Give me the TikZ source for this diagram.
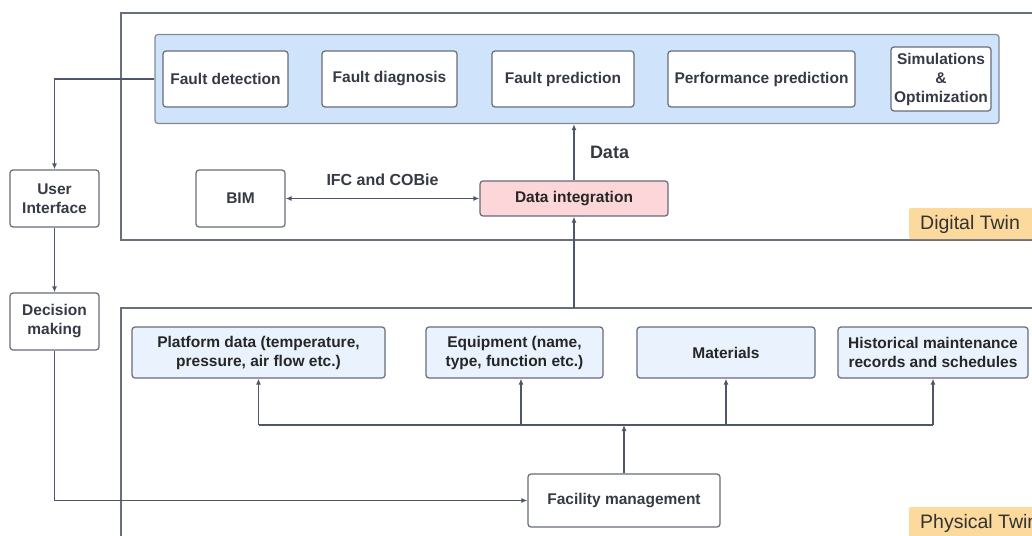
\documentclass[tikz,border=0pt]{standalone}
\usepackage{fontspec}
\setmainfont{Liberation Sans}
\usetikzlibrary{arrows.meta}
\definecolor{txt}{HTML}{353A45}
\definecolor{ln}{HTML}{50566A}
\definecolor{bd}{HTML}{666C78}
\definecolor{panelblue}{HTML}{CFE3FB}
\definecolor{lightblue}{HTML}{EAF3FD}
\definecolor{pink}{HTML}{FDD6D9}
\definecolor{tag}{HTML}{FCD99C}
\tikzset{
  box/.style={draw=bd, line width=1.2pt, rounded corners=3pt, fill=white, inner sep=0pt,
    align=center, text=txt, font=\fontsize{15.5}{19}\selectfont\bfseries},
  pbox/.style={box, fill=lightblue, text=black!85},
  conn/.style={draw=ln, line width=1.2pt, -{Latex[length=6pt,width=5pt]}},
  frame/.style={draw=ln!85, line width=1.2pt},
  lbl/.style={text=txt, font=\fontsize{16}{19}\selectfont\bfseries, inner sep=0pt},
  tagtxt/.style={text=black!80, font=\fontsize{19.5}{22}\selectfont, inner sep=0pt, anchor=west}
}
\begin{document}
\begin{tikzpicture}[x=1pt,y=-1pt]
\useasboundingbox (0,0) rectangle (1032,535);
\clip (0,0) rectangle (1032,535);
\fill[white] (0,0) rectangle (1032,535);
% frames
\draw[frame] (1040,13) -- (121,13) -- (121,240) -- (1040,240);
\draw[frame] (1040,308) -- (121,308) -- (121,545);
% blue panel
\node[draw=bd!80, fill=panelblue, rounded corners=3pt, line width=1.2pt, minimum width=844pt, minimum height=89pt, inner sep=0pt] (panel) at (577,79) {};
\node[box, minimum width=125pt, minimum height=56pt] (fd) at (225.5,79) {Fault detection};
\node[box, minimum width=135pt, minimum height=56pt] (fdi) at (389.5,79) {Fault diagnosis};
\node[box, minimum width=142pt, minimum height=56pt] (fp) at (563,79) {Fault prediction};
\node[box, minimum width=187pt, minimum height=56pt] (pp) at (761.5,79) {Performance prediction};
\node[box, minimum width=100pt, minimum height=64pt] (sim) at (941,79) {Simulations\\\&\\Optimization};
% middle
\node[box, minimum width=89pt, minimum height=57pt] (ui) at (54.5,198.5) {User\\Interface};
\node[box, minimum width=89pt, minimum height=57pt] (bim) at (240.5,198.5) {BIM};
\node[box, fill=pink, text=black!85, minimum width=188pt, minimum height=35pt] (di) at (574,198.5) {Data integration};
\node[box, minimum width=89pt, minimum height=57pt] (dm) at (54.5,321.5) {Decision\\making};
% physical
\node[pbox, minimum width=253pt, minimum height=51pt] (pd) at (258.5,352.5) {Platform data (temperature,\\pressure, air flow etc.)};
\node[pbox, minimum width=177pt, minimum height=51pt] (eq) at (514.5,352.5) {Equipment (name,\\type, function etc.)};
\node[pbox, minimum width=178pt, minimum height=51pt] (mat) at (726,352.5) {Materials};
\node[pbox, minimum width=190pt, minimum height=51pt] (hist) at (933,352.5) {Historical maintenance\\records and schedules};
\node[box, minimum width=192pt, minimum height=53pt] (fm) at (624,500.5) {Facility management};
% coordinates
\coordinate (ptop) at (574,308);
\coordinate (bus) at (624,425);
\coordinate (bpd) at (258.5,425);
\coordinate (beq) at (521,425);
\coordinate (bmat) at (726,425);
\coordinate (bhist) at (933,425);
% connectors
\draw[conn] (panel.west) -| (ui.north);
\draw[conn] (ui.south) -- (dm.north);
\draw[conn] (dm.south) |- (fm.west);
\draw[conn, {Latex[length=6pt,width=5pt]}-{Latex[length=6pt,width=5pt]}] (bim.east) -- node[lbl, above=12pt] (ifc) {IFC and COBie} (di.west);
\draw[conn] (di.north) -- (di.north |- panel.south);
\node[lbl, font=\fontsize{18}{20}\selectfont\bfseries] (data) at (609.5,152) {Data};
\draw[conn] (ptop) -- (di.south);
\draw[conn] (fm.north) -- (bus);
\draw[draw=ln, line width=1.2pt, rounded corners=2pt] (bpd) -- (bhist);
\draw[conn] (bpd) -- (pd.south);
\draw[conn] (beq) -- (beq |- eq.south);
\draw[conn] (bmat) -- (mat.south);
\draw[conn] (bhist) -- (hist.south);
% tags
\fill[tag, rounded corners=2pt] (909,208) rectangle (1045,239);
\node[tagtxt] (dt) at (920,224) {Digital Twin};
\fill[tag, rounded corners=2pt] (909,507) rectangle (1045,545);
\node[tagtxt] (pt) at (920,523) {Physical Twin};
\end{tikzpicture}
\end{document}
